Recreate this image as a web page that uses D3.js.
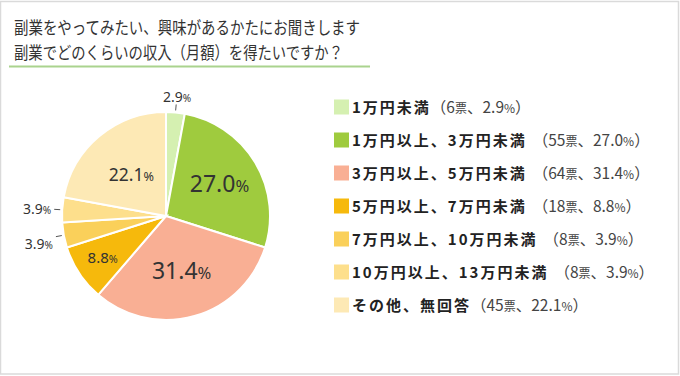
<!DOCTYPE html>
<html>
<head>
<meta charset="utf-8">
<script src="https://cdn.jsdelivr.net/npm/d3@7"></script>
<style>
  body { margin: 0; background: #fff; }
  svg { display: block; font-family: "Noto Sans CJK JP", "Noto Sans", sans-serif; }
</style>
</head>
<body>
<svg id="chart" width="680" height="376"></svg>
<script>
// survey data
const titleLines = ['副業をやってみたい、興味があるかたにお聞きします', '副業でどのくらいの収入（月額）を得たいですか？'];
const categories = ['1万円未満', '1万円以上、3万円未満', '3万円以上、5万円未満', '5万円以上、7万円未満', '7万円以上、10万円未満', '10万円以上、13万円未満', 'その他、無回答'];
const votes = [6, 55, 64, 18, 8, 8, 45];
const percents = [2.9, 27.0, 31.4, 8.8, 3.9, 3.9, 22.1];
const colors = ['#d5f0b1', '#9fcb3e', '#f9af94', '#f6b90c', '#fad05a', '#fddf8c', '#fde9b5'];

const svg = d3.select('#chart');
const width = 680, height = 376;

// frame
svg.append('rect')
  .attr('x', 0.5).attr('y', 1.5)
  .attr('width', width - 2).attr('height', height - 3.5)
  .attr('fill', '#fff').attr('stroke', '#dadada').attr('stroke-width', 1.5);

// title (squeezed a bit, the original font is narrower)
const titleWidths = [346, 329];
svg.append('g').selectAll('text')
  .data(titleLines)
  .enter().append('text')
  .attr('x', 14)
  .attr('y', (d, i) => 34 + i * 24.5)
  .attr('font-size', 17.5)
  .attr('fill', '#333')
  .attr('textLength', (d, i) => titleWidths[i])
  .attr('lengthAdjust', 'spacingAndGlyphs')
  .text(d => d);

svg.append('line')
  .attr('x1', 9).attr('x2', 370)
  .attr('y1', 66.5).attr('y2', 66.5)
  .attr('stroke', '#aad38e').attr('stroke-width', 2);

// pie
const cx = 166, cy = 216, r = 104;
const data = categories.map((c, i) => ({ name: c, votes: votes[i], pct: percents[i], color: colors[i] }));

const pie = d3.pie().sort(null).value(d => d.pct);
const arcs = pie(data);
const arc = d3.arc().innerRadius(0).outerRadius(r);

const g = svg.append('g').attr('transform', `translate(${cx},${cy})`);

g.selectAll('path')
  .data(arcs)
  .enter().append('path')
  .attr('d', arc)
  .attr('fill', d => d.data.color)
  .attr('stroke', '#fff')
  .attr('stroke-width', 2);

// label placement: inside for big slices, outside for small ones
const insideR = { 1: 0.6, 2: 0.55, 3: 0.73, 6: 0.52 };
const insideSize = { 1: 23, 2: 23, 3: 15, 6: 17.5 };
const mid = d => (d.startAngle + d.endAngle) / 2;

arcs.forEach((d, i) => {
  const a = mid(d);
  const sx = Math.sin(a), sy = -Math.cos(a);
  let x, y, anchor, size;
  if (insideR[i] !== undefined) {
    x = sx * r * insideR[i];
    y = sy * r * insideR[i];
    anchor = 'middle';
    size = insideSize[i];
  } else {
    size = 14;
    // short leader line
    g.append('line')
      .attr('x1', sx * (r + 2)).attr('y1', sy * (r + 2))
      .attr('x2', sx * (r + 8)).attr('y2', sy * (r + 8))
      .attr('stroke', '#555').attr('stroke-width', 1);
    if (Math.abs(sx) < 0.3) {
      x = sx * (r + 18); y = sy * (r + 15);
      anchor = 'middle';
    } else {
      x = sx * (r + 11); y = sy * (r + 40) + 2;
      anchor = 'end';
    }
  }
  const t = g.append('text')
    .attr('x', x).attr('y', y)
    .attr('dy', '0.35em')
    .attr('text-anchor', anchor)
    .attr('fill', '#333')
    .attr('font-family', '"Noto Sans", sans-serif')
    .attr('font-size', size);
  t.append('tspan').text(d.data.pct.toFixed(1));
  t.append('tspan').attr('font-size', size * 0.72).text('%');
});

// legend
const legend = svg.append('g').attr('transform', 'translate(334,0)');
const rowY = d3.scalePoint().domain(categories).range([107, 305]);

const rows = legend.selectAll('g.row')
  .data(data)
  .enter().append('g')
  .attr('class', 'row')
  .attr('transform', d => `translate(0,${rowY(d.name)})`);

rows.append('rect')
  .attr('x', 0).attr('y', -7.5)
  .attr('width', 15).attr('height', 15)
  .attr('fill', d => d.color);

const lt = rows.append('text')
  .attr('x', 18)
  .attr('dy', '0.36em')
  .attr('fill', '#222');

lt.append('tspan')
  .attr('font-size', 15)
  .attr('font-weight', 'bold')
  .attr('letter-spacing', 2)
  .text(d => d.name);

const sub = { fill: '#444', big: 15.5, small: 12 };
lt.append('tspan')
  .attr('font-size', sub.big)
  .attr('fill', sub.fill)
  .attr('dx', (d, i) => (i === 0 || i === 6) ? 0 : 6)
  .text(d => '（' + d.votes);
lt.append('tspan').attr('font-size', sub.small).attr('fill', sub.fill).text('票');
lt.append('tspan').attr('font-size', sub.big).attr('fill', sub.fill).text(d => '、' + d.pct.toFixed(1));
lt.append('tspan').attr('font-size', sub.small).attr('fill', sub.fill).text('%');
lt.append('tspan').attr('font-size', sub.big).attr('fill', sub.fill).text('）');
</script>
</body>
</html>
